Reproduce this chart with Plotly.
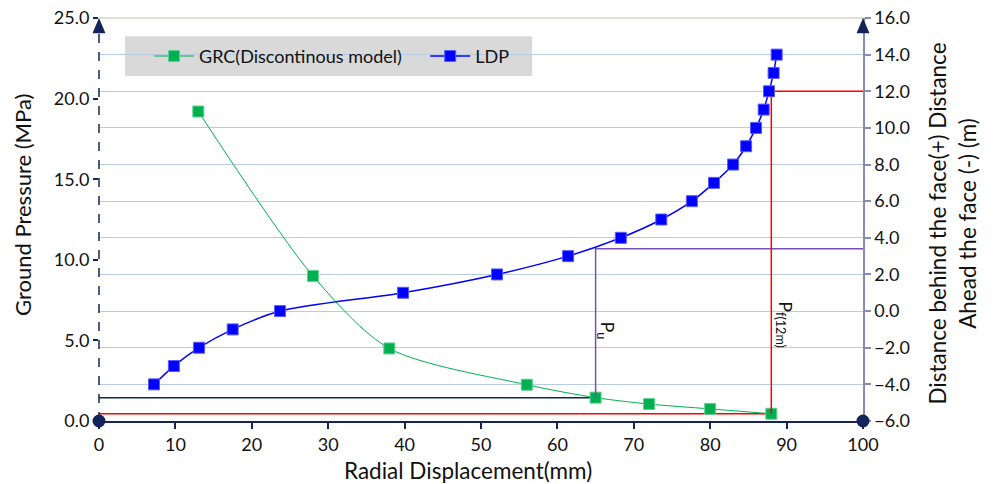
import plotly.graph_objects as go

# ---------------- data ----------------
grc_disp = [13.0, 28.0, 38.0, 56.0, 65.0, 72.0, 80.0, 88.0]
grc_pressure = [19.2, 9.0, 4.5, 2.25, 1.45, 1.05, 0.75, 0.45]

ldp_disp = [7.2, 9.8, 13.1, 17.5, 23.7, 39.8, 52.1, 61.4, 68.3, 73.6, 77.6,
            80.5, 83.0, 84.7, 86.0, 87.0, 87.7, 88.3, 88.7]
ldp_dist = [-4, -3, -2, -1, 0, 1, 2, 3, 4, 5, 6, 7, 8, 9, 10, 11, 12, 13, 14]

pu_disp, pu_pressure, pu_dist = 65.0, 1.45, 3.4
pf_disp, pf_pressure, pf_dist = 88.0, 0.45, 12.0

x_range = [0, 100]
p_range = [0, 25]
d_range = [-6, 16]

x_title = "Radial Displacement(mm)"
y_title = "Ground Pressure (MPa)"
y2_title = "Distance behind the face(+) Distance<br>Ahead the face (-) (m)"

FONT = "Lato"
NAVY = "#13245a"
BLUE = "#0000ff"
GREEN = "#00b050"
RED = "#ff0000"
PURPLE = "#7a4fb5"
AX2 = "#8a8ab8"
TXT = "#111111"


def p_to_d(p):
    """convert left-axis (pressure) value to right-axis (distance) units"""
    return d_range[0] + (p - p_range[0]) * (d_range[1] - d_range[0]) / (p_range[1] - p_range[0])


fig = go.Figure()

# reference lines
fig.add_trace(go.Scatter(x=[x_range[0], pu_disp], y=[pu_pressure, pu_pressure], mode="lines",
                         line=dict(color=NAVY, width=1.5), showlegend=False, hoverinfo="skip"))
fig.add_trace(go.Scatter(x=[x_range[0], pf_disp], y=[pf_pressure, pf_pressure], mode="lines",
                         line=dict(color=RED, width=1.5), showlegend=False, hoverinfo="skip"))
fig.add_trace(go.Scatter(x=[pu_disp, pu_disp, x_range[1]], y=[p_to_d(pu_pressure), pu_dist, pu_dist],
                         mode="lines", yaxis="y2", line=dict(color=PURPLE, width=1.5),
                         showlegend=False, hoverinfo="skip"))
fig.add_trace(go.Scatter(x=[pf_disp, pf_disp, x_range[1]], y=[p_to_d(pf_pressure), pf_dist, pf_dist],
                         mode="lines", yaxis="y2", line=dict(color=RED, width=1.5),
                         showlegend=False, hoverinfo="skip"))

# main series
fig.add_trace(go.Scatter(x=grc_disp, y=grc_pressure, mode="lines+markers",
                         name="GRC(Discontinous model)\u00a0\u00a0\u00a0\u00a0",
                         line=dict(color=GREEN, width=1, shape="spline", smoothing=0.8),
                         marker=dict(symbol="square", size=11, color=GREEN,
                                     line=dict(color="#5fd08f", width=1))))
fig.add_trace(go.Scatter(x=ldp_disp, y=ldp_dist, mode="lines+markers", name="LDP", yaxis="y2",
                         line=dict(color=BLUE, width=1.5, shape="spline", smoothing=0.8),
                         marker=dict(symbol="square", size=11, color=BLUE,
                                     line=dict(color="#5a5aff", width=1))))

shapes = [
    # legend box
    dict(type="rect", xref="paper", yref="paper", x0=0.034, x1=0.567, y0=0.856, y1=0.955,
         fillcolor="#d9d9d9", line=dict(width=0), layer="below"),
    # dashed left axis
    dict(type="line", xref="paper", yref="paper", x0=0, x1=0, y0=0, y1=0.97,
         line=dict(color=NAVY, width=1.5, dash="dash")),
    # top border line
    dict(type="line", xref="paper", yref="paper", x0=0, x1=1, y0=1, y1=1,
         line=dict(color="#d6d2c4", width=1.5)),
    # arrow heads
    dict(type="path", xref="paper", yref="paper",
         path="M -0.0085,0.962 L 0.0085,0.962 L 0,1.0 Z", fillcolor=NAVY, line=dict(width=0)),
    dict(type="path", xref="paper", yref="paper",
         path="M 0.9915,0.962 L 1.0085,0.962 L 1,1.0 Z", fillcolor=NAVY, line=dict(width=0)),
    # corner dots
    dict(type="circle", xref="paper", yref="paper", xsizemode="pixel", ysizemode="pixel",
         xanchor=0, yanchor=0, x0=-6.5, x1=6.5, y0=-6.5, y1=6.5, fillcolor=NAVY, line=dict(width=0)),
    dict(type="circle", xref="paper", yref="paper", xsizemode="pixel", ysizemode="pixel",
         xanchor=1, yanchor=0, x0=-6.5, x1=6.5, y0=-6.5, y1=6.5, fillcolor=NAVY, line=dict(width=0)),
]

annotations = [
    dict(x=66.4, y=5.6, xref="x", yref="y", text="P<sub>u</sub>", showarrow=False,
         textangle=90, font=dict(family=FONT, size=18, color=TXT)),
    dict(x=89.8, y=6.0, xref="x", yref="y", text="P<sub>f(12m)</sub>", showarrow=False,
         textangle=90, font=dict(family=FONT, size=18, color=TXT)),
    # axis titles
    dict(x=-0.0995, y=0.536, xref="paper", yref="paper", text=y_title, showarrow=False,
         textangle=-90, xanchor="center", yanchor="middle", font=dict(family=FONT, size=22, color=TXT)),
    dict(x=0.483, y=-0.1216, xref="paper", yref="paper", text=x_title, showarrow=False,
         xanchor="center", yanchor="middle", font=dict(family=FONT, size=22.5, color=TXT)),
    dict(x=1.1171, y=0.491, xref="paper", yref="paper", text=y2_title, showarrow=False,
         textangle=-90, xanchor="center", yanchor="middle", align="center",
         font=dict(family=FONT, size=22.5, color=TXT)),
]

fig.update_layout(
    width=995, height=484,
    margin=dict(l=99, r=132, t=18, b=63, autoexpand=False),
    paper_bgcolor="white", plot_bgcolor="white",
    font=dict(family=FONT, size=18, color=TXT),
    shapes=shapes, annotations=annotations,
    legend=dict(orientation="h", x=0.0655, y=0.905, xanchor="left", yanchor="middle",
                bgcolor="rgba(0,0,0,0)", font=dict(family=FONT, size=18, color=TXT),
                itemwidth=40),
    xaxis=dict(range=x_range, dtick=10, showgrid=False, zeroline=False, automargin=False,
               showline=True, linecolor=NAVY, linewidth=2, ticklabeloverflow="allow",
               ticks="outside", ticklen=6, tickwidth=2, tickcolor=NAVY),
    yaxis=dict(range=p_range, dtick=5, tickformat=".1f", showgrid=False, zeroline=False,
               automargin=False, ticklabeloverflow="allow",
               showline=False, ticks="outside", ticklen=5, tickwidth=1.5, tickcolor=NAVY),
    yaxis2=dict(range=d_range, dtick=2, tickformat=".1f", overlaying="y", side="right",
                automargin=False, ticklabeloverflow="allow",
                showgrid=True, gridcolor="#b8cce4", gridwidth=1, zeroline=False,
                showline=True, linecolor=AX2, linewidth=1.5,
                ticks="outside", ticklen=6, tickwidth=1.5, tickcolor=AX2),
)

# remove the default 8px page margin so the figure fills the window exactly
fig.write_html("out.html", config={"displayModeBar": False},
               post_script="document.body.style.margin='0';")
